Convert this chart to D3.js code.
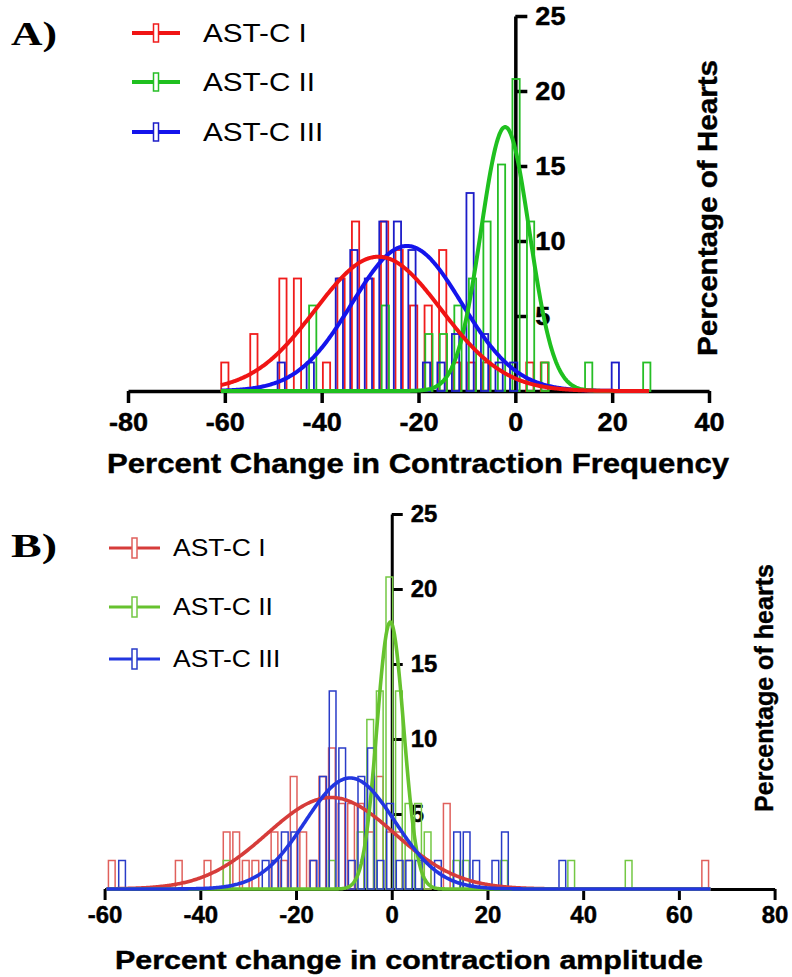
<!DOCTYPE html>
<html><head><meta charset="utf-8">
<script src="https://cdn.jsdelivr.net/npm/d3@7"></script>
<style>body{margin:0;background:#fff}svg{display:block}</style>
</head><body>
<svg id="chart" width="792" height="977"></svg>
<script>
// ---------------- DATA ----------------
const seriesNames = ["AST-C I", "AST-C II", "AST-C III"];

// Panel A: percent change in contraction frequency (bin width 3)
const aXTicks = [-80, -60, -40, -20, 0, 20, 40];
const aYTicks = [5, 10, 15, 20, 25];
const aBinsI   = [-60, -54, -48, -45, -39, -36, -33, -30, -27, -24, -21, -18, -15, -12, -9, -6, 3, 6];
const aPctI    = [1.9, 3.8, 7.5, 7.5, 1.9, 7.5, 11.3, 7.5, 11.3, 9.4, 5.7, 5.7, 9.4, 1.9, 1.9, 1.9, 1.9, 1.9];
const aBinsII  = [-42, -27, -18, -15, -12, -9, -6, -3, 0, 3, 6, 15, 27];
const aPctII   = [5.7, 5.7, 3.8, 3.8, 5.7, 7.5, 11.3, 15.1, 20.8, 11.3, 1.9, 1.9, 1.9];
const aBinsIII = [-48, -42, -36, -33, -30, -27, -24, -21, -18, -15, -12, -9, -6, -3, 0, 21];
const aPctIII  = [1.9, 1.9, 7.5, 9.4, 7.5, 11.3, 11.3, 9.4, 1.9, 1.9, 3.8, 13.2, 3.8, 1.9, 1.9, 1.9];
// Gaussian fits: I, II, III
const aFitMean = [-28.3, -2.1, -22.4];
const aFitSD   = [13.0, 5.0, 11.3];
const aFitPeak = [8.95, 17.6, 9.67];
const aFitRange = [-60.8, 27.6];

// Panel B: percent change in contraction amplitude (bin width 2)
const bXTicks = [-60, -40, -20, 0, 20, 40, 60, 80];
const bYTicks = [5, 10, 15, 20, 25];
const bBinsI   = [-58.5, -44.5, -38.5, -34.5, -32.5, -30.5, -28.5, -24.5, -22.5, -20.5, -18.5, -16.5, -14.5, -12.5, -10.5, -8.5, -6.5, -4.5, -2.5, -0.5, 1.5, 3.5, 7.5, 11.5, 65.5];
const bPctI    = [1.9, 1.9, 1.9, 3.8, 3.8, 1.9, 1.9, 3.8, 1.9, 7.5, 3.8, 1.9, 7.5, 9.4, 5.7, 5.7, 5.7, 3.8, 7.5, 3.8, 3.8, 1.9, 1.9, 5.7, 1.9];
const bBinsII  = [-34.5, -12.5, -6.5, -4.5, -2.5, -0.5, 1.5, 3.5, 5.5, 7.5, 13.5, 15.5, 23.5, 37.5, 49.5];
const bPctII   = [1.9, 1.9, 3.8, 11.3, 13.2, 20.8, 13.2, 5.7, 5.7, 3.8, 1.9, 1.9, 1.9, 1.9, 1.9];
const bBinsIII = [-56.5, -26.5, -24.5, -22.5, -20.5, -16.5, -14.5, -12.5, -10.5, -8.5, -6.5, -4.5, -2.5, -0.5, 1.5, 3.5, 5.5, 9.5, 13.5, 15.5, 17.5, 21.5, 23.5, 35.5];
const bPctIII  = [1.9, 1.9, 1.9, 3.8, 3.8, 1.9, 7.5, 13.2, 9.4, 1.9, 7.5, 9.4, 1.9, 5.7, 1.9, 1.9, 1.9, 1.9, 3.8, 3.8, 1.9, 1.9, 3.8, 1.9];
const bFitMean = [-12.7, -0.3, -8.7];
const bFitSD   = [13.3, 2.8, 9.4];
const bFitPeak = [6.1, 17.8, 7.4];
const bFitRange = [-59.6, 66.6];

// ---------------- DRAWING ----------------
const FONT = "'Liberation Sans', Arial, Helvetica, sans-serif";
const SERIF = "'Liberation Serif', 'Times New Roman', serif";
const svg = d3.select("#chart");

function stretch(sel, k) {
  sel.each(function () {
    const w = this.getComputedTextLength();
    if (w > 0) {
      this.setAttribute("textLength", (w * k).toFixed(1));
      this.setAttribute("lengthAdjust", "spacingAndGlyphs");
    }
  });
}

function drawPanel(p) {
  const g = svg.append("g");
  const x = d3.scaleLinear().domain(p.xDomain).range(p.xRange);
  const y = d3.scaleLinear().domain([0, 25]).range(p.yRange);

  const xAxis = g.append("g").attr("transform", `translate(0,${y(0)})`)
    .call(d3.axisBottom(x).tickValues(p.xTicks).tickSize(p.tickLen).tickSizeOuter(0)
      .tickPadding(p.xPad).tickFormat(d => String(d)));
  const yAxis = g.append("g").attr("transform", `translate(${x(0)},0)`)
    .call(d3.axisRight(y).tickValues(p.yTicks).tickSize(p.tickLen).tickSizeOuter(0)
      .tickPadding(p.yPad).tickFormat(d => String(d)));
  [xAxis, yAxis].forEach(a => {
    a.select(".domain").attr("stroke", "#000").attr("stroke-width", p.axisW);
    a.selectAll(".tick line").attr("stroke", "#000").attr("stroke-width", p.axisW);
    a.selectAll(".tick text").attr("fill", "#000").attr("font-family", FONT)
      .attr("font-weight", "bold").attr("font-size", p.tickFont)
      .attr("stroke", "#000").attr("stroke-width", 0.45);
  });
  stretch(xAxis.selectAll(".tick text"), p.tickStretch);
  stretch(yAxis.selectAll(".tick text"), p.tickStretch);

  // histogram bars (open)
  const bw = x(p.barW) - x(0);
  p.series.forEach(s => {
    g.append("g").selectAll("rect")
      .data(s.bins.map((b, i) => ({ b: b, v: s.pct[i] })))
      .join("rect")
      .attr("x", d => x(d.b + s.off) - bw / 2)
      .attr("width", bw)
      .attr("y", d => y(d.v))
      .attr("height", d => y(0) - y(d.v))
      .attr("fill", "none")
      .attr("stroke", s.barColor)
      .attr("stroke-width", p.barStroke);
  });

  // gaussian fit curves
  const xs = d3.range(p.fitRange[0], p.fitRange[1], 0.2).concat([p.fitRange[1]]);
  const line = d3.line().x(d => x(d[0])).y(d => y(d[1])).curve(d3.curveLinear);
  p.curveOrder.forEach(i => {
    const s = p.series[i];
    const pts = xs.map(v => [v, s.peak * Math.exp(-((v - s.mean) ** 2) / (2 * s.sd * s.sd))]);
    g.append("path").attr("d", line(pts)).attr("fill", "none")
      .attr("stroke", s.lineColor).attr("stroke-width", p.curveW)
      .attr("stroke-linejoin", "round");
  });

  // legend
  p.series.forEach((s, i) => {
    const ly = p.legY[i];
    const lg = g.append("g");
    lg.append("line").attr("x1", p.legX[0]).attr("x2", p.legX[1]).attr("y1", ly).attr("y2", ly)
      .attr("stroke", s.lineColor).attr("stroke-width", p.legLineW);
    const cx = (p.legX[0] + p.legX[1]) / 2;
    lg.append("rect").attr("x", cx - p.legRectW / 2).attr("y", ly - p.legRectH / 2)
      .attr("width", p.legRectW).attr("height", p.legRectH)
      .attr("fill", "#fff").attr("stroke", s.barColor).attr("stroke-width", 1.5);
    const t = lg.append("text").attr("x", p.legTextX).attr("y", ly).attr("dy", "0.36em")
      .attr("font-family", FONT).attr("font-size", p.legFont).attr("fill", "#000")
      .text(s.name);
    stretch(t, p.legStretch);
  });

  // axis titles
  g.append("text").attr("x", p.xTitlePos[0]).attr("y", p.xTitlePos[1])
    .attr("text-anchor", "middle").attr("font-family", FONT).attr("font-weight", "bold")
    .attr("font-size", p.xTitleFont).attr("textLength", p.xTitleLen)
    .attr("stroke", "#000").attr("stroke-width", 0.4)
    .attr("lengthAdjust", "spacingAndGlyphs").text(p.xTitle);
  g.append("text").attr("transform", `translate(${p.yTitlePos[0]},${p.yTitlePos[1]}) rotate(-90)`)
    .attr("text-anchor", "middle").attr("font-family", FONT).attr("font-weight", "bold")
    .attr("font-size", p.yTitleFont).attr("textLength", p.yTitleLen)
    .attr("stroke", "#000").attr("stroke-width", 0.4)
    .attr("lengthAdjust", "spacingAndGlyphs").text(p.yTitle);

  // panel label
  g.append("text").attr("x", p.labelPos[0]).attr("y", p.labelPos[1])
    .attr("font-family", SERIF).attr("font-weight", "bold").attr("font-size", 33)
    .attr("textLength", 46).attr("lengthAdjust", "spacingAndGlyphs").text(p.label);
}

drawPanel({
  label: "A)", labelPos: [11, 45],
  xDomain: [-80, 40], xRange: [128, 709], yRange: [391, 16],
  xTicks: aXTicks, yTicks: aYTicks,
  tickLen: 12, xPad: 10, yPad: 8, axisW: 3.5, tickFont: 26, tickStretch: 1.04,
  barW: 1.5, barStroke: 1.8, curveW: 4,
  fitRange: aFitRange,
  series: [
    { name: seriesNames[0], bins: aBinsI, pct: aPctI, off: 0, barColor: "#f01c1c", lineColor: "#f01414", mean: aFitMean[0], sd: aFitSD[0], peak: aFitPeak[0] },
    { name: seriesNames[1], bins: aBinsII, pct: aPctII, off: 0.15, barColor: "#26be26", lineColor: "#1fc01f", mean: aFitMean[1], sd: aFitSD[1], peak: aFitPeak[1] },
    { name: seriesNames[2], bins: aBinsIII, pct: aPctIII, off: -0.35, barColor: "#1c1cc8", lineColor: "#1414ec", mean: aFitMean[2], sd: aFitSD[2], peak: aFitPeak[2] }
  ],
  curveOrder: [2, 1, 0],
  legX: [132, 180], legY: [33, 82, 132], legLineW: 4, legRectW: 5, legRectH: 18,
  legTextX: 203, legFont: 26, legStretch: 1.14,
  xTitle: "Percent Change in Contraction Frequency", xTitlePos: [418, 473], xTitleFont: 27.5, xTitleLen: 622,
  yTitle: "Percentage of Hearts", yTitlePos: [717, 208], yTitleFont: 28, yTitleLen: 296
});

drawPanel({
  label: "B)", labelPos: [11, 557],
  xDomain: [-60, 80], xRange: [104.6, 774.6], yRange: [889, 514],
  xTicks: bXTicks, yTicks: bYTicks,
  tickLen: 11, xPad: 7, yPad: 8, axisW: 3, tickFont: 23, tickStretch: 1.04,
  barW: 1.4, barStroke: 1.5, curveW: 3.6,
  fitRange: bFitRange,
  series: [
    { name: seriesNames[0], bins: bBinsI, pct: bPctI, off: 0, barColor: "#e0605c", lineColor: "#d63c3a", mean: bFitMean[0], sd: bFitSD[0], peak: bFitPeak[0] },
    { name: seriesNames[1], bins: bBinsII, pct: bPctII, off: 0, barColor: "#74c844", lineColor: "#66c22e", mean: bFitMean[1], sd: bFitSD[1], peak: bFitPeak[1] },
    { name: seriesNames[2], bins: bBinsIII, pct: bPctIII, off: 0.15, barColor: "#2a3cc8", lineColor: "#2236e0", mean: bFitMean[2], sd: bFitSD[2], peak: bFitPeak[2] }
  ],
  curveOrder: [0, 1, 2],
  legX: [109, 160], legY: [548, 607, 659], legLineW: 3.2, legRectW: 5, legRectH: 20,
  legTextX: 173, legFont: 23, legStretch: 1.15,
  xTitle: "Percent change in contraction amplitude", xTitlePos: [409, 969], xTitleFont: 25, xTitleLen: 588,
  yTitle: "Percentage of hearts", yTitlePos: [773, 688], yTitleFont: 26, yTitleLen: 248
});
</script>
</body></html>
